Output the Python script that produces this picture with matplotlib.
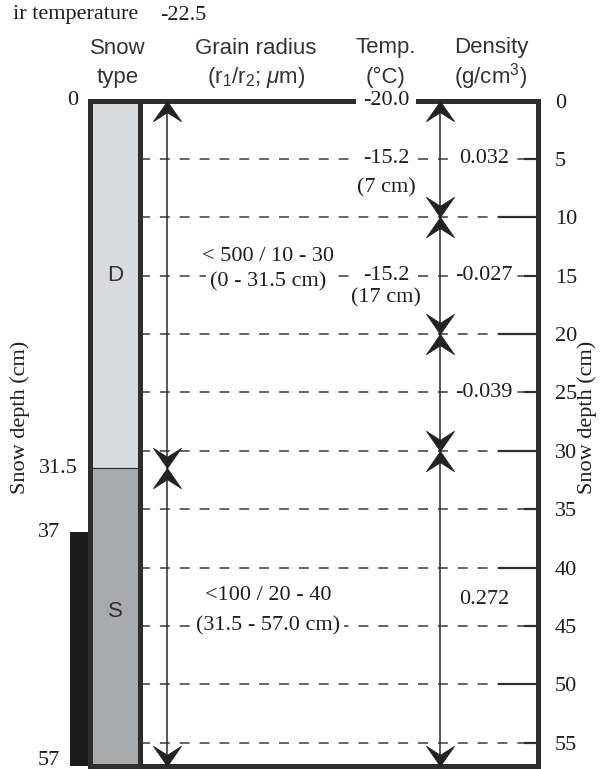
import numpy as np
import matplotlib
matplotlib.use('Agg')
import matplotlib.pyplot as plt
from matplotlib.path import Path

# snow layers (depth in cm)
layer_types = ['D', 'S']
layer_top = [0.0, 31.5]
layer_bottom = [31.5, 57.0]
layer_colors = ['#d9dadd', '#a9aaac']
layer_label_depth = [15.0, 43.8]

# grain radius text per layer
grain_text = ['< 500 / 10 - 30', '<100 / 20 - 40']
grain_range = ['(0 - 31.5 cm)', '(31.5 - 57.0 cm)']
grain_text_depth = [13.4, 42.4]
grain_range_depth = [15.5, 45.0]

# temperature
air_temp = '-22.5'
temp_values = ['-20.0', '-15.2', '-15.2']
temp_depth = [0, 5, 15]
temp_note = ['(7 cm)', '(17 cm)']
temp_note_depth = [7.5, 16.9]
temp_intervals = [(0, 10), (10, 20), (20, 30), (30, 57)]
grain_intervals = [(0, 31.5), (31.5, 57)]

# density
dens_values = ['0.032', '-0.027', '-0.039', '0.272']
dens_depth = [5, 15, 25, 42.7]

# black bar on the left
ice_top = 37
ice_bottom = 57

total_depth = 57
left_ticks = [0, 31.5, 37, 57]
right_major = [0, 10, 20, 30, 40, 50]
right_minor = [5, 15, 25, 35, 45, 55]

plt.rcParams['font.family'] = 'Liberation Serif'
plt.rcParams['mathtext.fontset'] = 'custom'
plt.rcParams['mathtext.rm'] = 'Liberation Sans'
plt.rcParams['mathtext.it'] = 'Liberation Sans:italic'

dark = '#2e2e2e'
txt = '#1e1e1e'
fs = 16
sans = 'Liberation Sans'

fig = plt.figure(figsize=(6, 7.69), dpi=100)
W, H = 600.0, 769.0
ax = fig.add_axes([90 / W, 1 - 766 / H, 448 / W, (766 - 100.5) / H])
ax.set_xlim(0, 448)
ax.set_ylim(total_depth, 0)

# column x positions (pixels from the box's left edge)
col_w = 50
x_grain_arrow = 77
x_grain_txt = 178
x_temp_txt = 296
x_temp_arrow = 350
x_dens_txt = 394

# snow type column
for top, bot, c, lab, ld in zip(layer_top, layer_bottom, layer_colors, layer_types, layer_label_depth):
    ax.bar(col_w / 2, bot - top, bottom=top, width=col_w, color=c, edgecolor=dark, linewidth=0.8, zorder=1)
    ax.text(col_w / 2, ld, lab, ha='center', va='center', fontsize=fs, family=sans, color='#333333')
ax.axvline(col_w, color=dark, lw=3.6, zorder=2.6)

# black bar
ax.bar(-10, ice_bottom - ice_top, bottom=ice_top, width=20, color='#1c1c1c', clip_on=False, zorder=1)

# dashed depth lines
ax.hlines(right_minor + right_major[1:], col_w, 448, colors='#3a3a3a', lw=1.1,
          linestyles=(0, (6.5, 6.5)), zorder=1.5)

# arrow heads
up_head = Path([(0, 0), (-0.5, -0.72), (0, -0.4), (0.5, -0.72), (0, 0)],
               [Path.MOVETO, Path.LINETO, Path.LINETO, Path.LINETO, Path.CLOSEPOLY])
down_head = Path([(0, 0), (-0.5, 0.72), (0, 0.4), (0.5, 0.72), (0, 0)],
                 [Path.MOVETO, Path.LINETO, Path.LINETO, Path.LINETO, Path.CLOSEPOLY])


def draw_span(x, a, b):
    ax.vlines(x, a, b, colors='#2a2a2a', lw=1.1, zorder=2)
    ax.plot(x, a, marker=up_head, ms=29, color='#222222', mew=0.6, clip_on=False, zorder=4)
    ax.plot(x, b, marker=down_head, ms=29, color='#222222', mew=0.6, clip_on=False, zorder=4)


for a, b in grain_intervals:
    draw_span(x_grain_arrow, a, b)
for a, b in temp_intervals:
    draw_span(x_temp_arrow, a, b)

box = dict(facecolor='white', edgecolor='none', pad=3)

# grain radius text
for t, d in zip(grain_text, grain_text_depth):
    ax.text(x_grain_txt, d, t, ha='center', va='center', fontsize=fs, color=txt, bbox=box, zorder=3)
for t, d in zip(grain_range, grain_range_depth):
    ax.text(x_grain_txt, d, t, ha='center', va='center', fontsize=fs, color=txt, bbox=box, zorder=3)

# temperature text
for t, d in zip(temp_values, temp_depth):
    ax.text(x_temp_txt, d, t, ha='center', va='center', fontsize=fs, color=txt,
            bbox=dict(facecolor='white', edgecolor='none', pad=5), zorder=3)
for t, d in zip(temp_note, temp_note_depth):
    ax.text(x_temp_txt, d, t, ha='center', va='center', fontsize=fs, color=txt, bbox=box, zorder=3)

# density text
for t, d in zip(dens_values, dens_depth):
    ax.text(x_dens_txt, d, t, ha='center', va='center', fontsize=fs, color=txt, bbox=box, zorder=3)

# frame
for s in ax.spines.values():
    s.set_linewidth(3.6)
    s.set_color(dark)
ax.set_xticks([])

# right depth axis
ax.yaxis.tick_right()
ax.set_yticks(right_major)
ax.set_yticklabels([str(v) for v in right_major])
ax.set_yticks(right_minor, minor=True)
ax.set_yticklabels([str(v) for v in right_minor], minor=True)
ax.tick_params(axis='y', which='major', direction='in', length=29, width=1.6, pad=12,
               labelsize=fs, colors=dark, labelcolor=txt)
ax.tick_params(axis='y', which='minor', direction='in', length=10, width=1.6, pad=12,
               labelsize=fs, colors=dark, labelcolor=txt)

# left depth labels
for v in left_ticks:
    xl = -30 if v >= ice_top else -12
    yl = min(v, total_depth - 0.45)
    ax.text(xl, yl, ('%g' % v), ha='right', va='center', fontsize=fs, color=txt, clip_on=False)

# side titles
fig.text(20 / W, 1 - 417 / H, 'Snow depth (cm)', rotation=90, ha='center', va='center', fontsize=fs, color=txt)
fig.text(587 / W, 1 - 417 / H, 'Snow depth (cm)', rotation=90, ha='center', va='center', fontsize=fs, color=txt)

# header
fig.text(13 / W, 1 - 15 / H, 'ir temperature', ha='left', va='center', fontsize=fs, color=txt)
fig.text(160 / W, 1 - 15 / H, air_temp, ha='left', va='center', fontsize=fs, color=txt)
headers = [(118, 'Snow', 'type'),
           (256, 'Grain radius', r'(r$_1$/r$_2$; $\mu$m)'),
           (386, 'Temp.', '(\u00b0C)'),
           (491, 'Density', r'(g/cm$^3$)')]
for hx, l1, l2 in headers:
    fig.text(hx / W, 1 - 48 / H, l1, ha='center', va='center', fontsize=fs, family=sans, color='#333333')
    fig.text(hx / W, 1 - 77 / H, l2, ha='center', va='center', fontsize=fs, family=sans, color='#333333')

fig.savefig('out.png', dpi=100)
